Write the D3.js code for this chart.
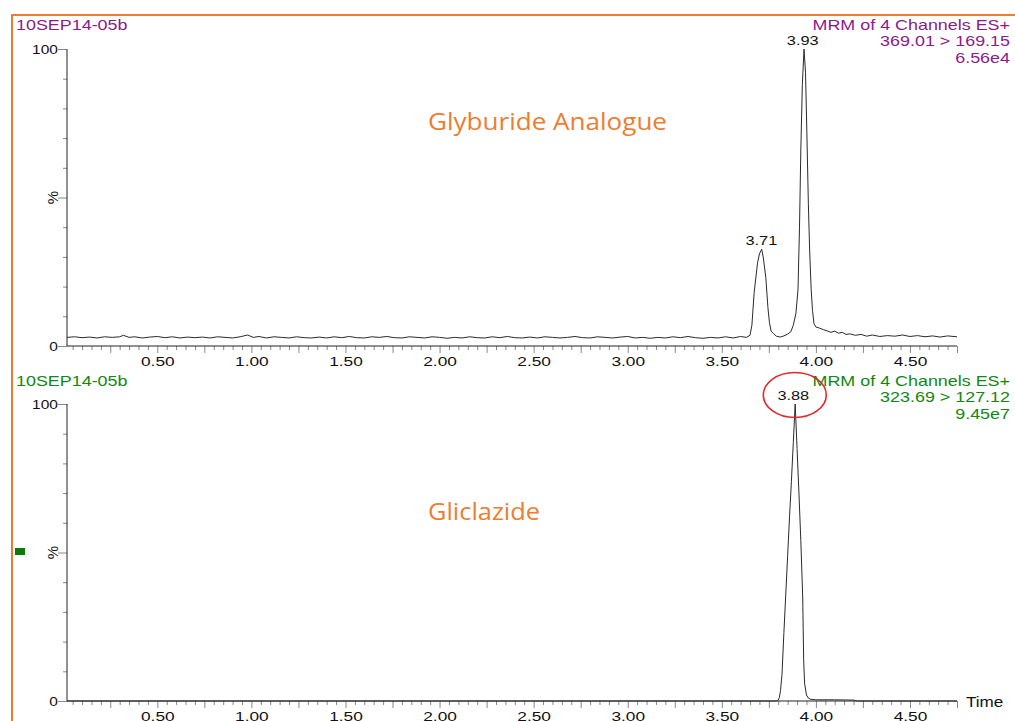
<!DOCTYPE html>
<html><head><meta charset="utf-8">
<script src="https://cdn.jsdelivr.net/npm/d3@7"></script>
<style>
html,body{margin:0;padding:0;background:#fff;}
svg{display:block;font-family:"Liberation Sans",Arial,sans-serif;}
</style>
</head><body>
<svg id="chart" width="1015" height="721"></svg>
<script>
// ---------------- DATA ----------------
const timeDomain = [0.02, 4.75];
const xTickLabels = ["0.50","1.00","1.50","2.00","2.50","3.00","3.50","4.00","4.50"];
const yTickLabels = ["0", "%", "100"];

const sampleName = "10SEP14-05b";
const topHeader = ["MRM of 4 Channels ES+", "369.01 > 169.15", "6.56e4"];
const bottomHeader = ["MRM of 4 Channels ES+", "323.69 > 127.12", "9.45e7"];
const topCompound = "Glyburide Analogue";
const bottomCompound = "Gliclazide";

const topPeaks = [3.71, 3.93];
const bottomPeaks = [3.88];

// [time (min), relative intensity (%)]
const topTrace = [
[0.02,2.9],[0.06,3.1],[0.10,2.8],[0.14,3.0],[0.18,2.7],[0.22,3.1],[0.26,2.9],[0.30,3.1],[0.32,3.6],[0.35,2.9],
[0.38,3.1],[0.42,2.7],[0.46,3.0],[0.50,3.2],[0.54,2.8],[0.58,3.1],[0.62,2.7],[0.66,3.0],[0.70,2.8],[0.74,3.0],
[0.78,2.7],[0.82,3.1],[0.86,2.9],[0.90,2.7],[0.94,3.1],[0.98,3.7],[1.01,2.9],[1.04,3.2],[1.08,2.7],[1.12,3.1],
[1.16,2.9],[1.20,2.7],[1.24,3.1],[1.28,2.8],[1.32,2.7],[1.36,3.0],[1.40,2.7],[1.44,3.1],[1.48,2.8],[1.52,3.2],
[1.56,2.8],[1.60,2.7],[1.64,3.1],[1.68,2.9],[1.72,3.2],[1.76,2.8],[1.80,2.7],[1.84,3.1],[1.88,2.9],[1.92,2.7],
[1.96,3.1],[2.00,2.9],[2.04,2.6],[2.08,2.9],[2.12,2.7],[2.16,3.1],[2.20,2.8],[2.24,2.7],[2.28,3.1],[2.32,2.8],
[2.36,3.2],[2.40,2.8],[2.44,2.7],[2.48,3.0],[2.52,2.7],[2.56,3.1],[2.60,2.9],[2.64,2.7],[2.68,2.9],[2.72,3.2],
[2.76,2.8],[2.80,2.7],[2.84,3.1],[2.88,2.9],[2.92,2.7],[2.96,3.0],[3.00,3.2],[3.04,2.7],[3.08,2.9],[3.12,2.6],
[3.16,2.9],[3.20,2.7],[3.24,3.1],[3.28,2.8],[3.32,3.2],[3.36,2.8],[3.40,2.6],[3.44,2.9],[3.48,2.7],[3.52,3.1],
[3.56,2.7],[3.60,3.2],[3.63,2.9],[3.65,3.6],[3.66,7],[3.672,18],[3.69,28],[3.70,31],[3.712,32.6],[3.72,30],
[3.734,23],[3.745,13],[3.753,8],[3.762,5],[3.775,4.2],[3.79,3.3],[3.81,3.0],[3.83,3.4],[3.85,4.0],[3.867,4.8],
[3.88,7],[3.894,11],[3.905,19],[3.913,40],[3.92,66],[3.928,88],[3.937,100],[3.945,92],[3.952,72],[3.96,48],
[3.967,32],[3.975,19],[3.982,12],[3.99,7.5],[4.00,6.4],[4.02,6.0],[4.04,5.5],[4.06,5.1],[4.08,4.6],[4.10,5.0],
[4.12,4.3],[4.14,4.6],[4.16,3.9],[4.18,4.1],[4.21,3.6],[4.24,3.9],[4.27,3.3],[4.30,3.7],[4.34,3.2],[4.38,3.5],
[4.42,3.3],[4.46,3.7],[4.50,3.2],[4.54,3.5],[4.58,3.1],[4.62,3.4],[4.66,3.0],[4.70,3.4],[4.75,3.1]
];

const bottomTrace = [
[0.02,0],[1.00,0],[2.00,0],[3.00,0],[3.70,0],[3.79,0],[3.80,0.3],[3.806,1.2],[3.812,3.5],[3.82,9],
[3.83,23],[3.84,36],[3.85,49],[3.86,62],[3.87,74],[3.88,87],[3.89,100],[3.90,85],[3.91,70],[3.92,54],
[3.93,35],[3.935,14],[3.94,6],[3.95,2],[3.96,1],[3.97,0.6],[4.00,0.4],[4.10,0.4],[4.20,0.3],[4.22,0],
[4.75,0]
];

// ---------------- DRAWING ----------------
const svg = d3.select("#chart");
const orange = "#ED7D31", purple = "#8B1A8B", green = "#118811";
const SX = 1.28; // horizontal stretch of the original screenshot

// outer frame
svg.append("rect").attr("x",12).attr("y",15).attr("width",1020).attr("height",730)
  .attr("fill","none").attr("stroke",orange).attr("stroke-width",2);

const x = d3.scaleLinear().domain(timeDomain).range([67, 957]);

function stxt(g, str, px, py, size, color, anchor, sx){
  return g.append("text").text(str)
    .attr("transform", `translate(${px},${py}) scale(${sx||SX},1)`)
    .attr("font-size", size).attr("fill", color).attr("text-anchor", anchor||"start");
}

const minorT = d3.range(1, 96).map(i => i*0.05).filter(v => v <= 4.75 + 1e-9);
const medT = minorT.filter((v,i) => (i+1) % 5 === 0);
const labT = xTickLabels.map(Number);

function panel(cfg){
  const g = svg.append("g");
  const y = d3.scaleLinear().domain([0,100]).range([cfg.y0, cfg.y100]);

  // y ticks
  const yAxis = d3.axisLeft(y).tickValues(d3.range(0,101,10)).tickSize(4).tickFormat("");
  const ya = g.append("g").attr("transform","translate(67,0)").call(yAxis);
  ya.select(".domain").remove();
  ya.selectAll(".tick line").attr("stroke","#888")
    .attr("x2", d => (d % 50 === 0) ? -9 : -4);
  g.append("line").attr("x1",67).attr("x2",67).attr("y1",y(100)).attr("y2",y(0))
    .attr("stroke","#222").attr("stroke-width",1);
  stxt(g, yTickLabels[2], 58, y(100)+5, 13.5, "#111", "end", 1.15);
  stxt(g, yTickLabels[0], 58, y(0)+5, 13.5, "#111", "end", 1.15);
  g.append("text").text(yTickLabels[1])
    .attr("transform", `translate(${58},${y(50)}) rotate(-90)`)
    .attr("text-anchor","middle").attr("font-size",15).attr("fill","#111");

  // x axis
  const xa = g.append("g").attr("transform",`translate(0,${y(0)})`)
    .call(d3.axisBottom(x).tickValues(minorT).tickSize(4).tickFormat(""));
  xa.select(".domain").remove();
  xa.selectAll(".tick line").attr("stroke","#888")
    .attr("y2", d => medT.some(m => Math.abs(m-d)<1e-6) ? 7 : 4);
  g.append("line").attr("x1",x(timeDomain[0])).attr("x2",x(timeDomain[1]))
    .attr("y1",y(0)).attr("y2",y(0)).attr("stroke","#222");
  const xl = g.append("g").attr("transform",`translate(0,${y(0)})`)
    .call(d3.axisBottom(x).tickValues(labT).tickSize(0).tickFormat((d,i)=>xTickLabels[i]));
  xl.select(".domain").remove();
  xl.attr("font-size",null).attr("font-family",null);
  xl.selectAll(".tick text").attr("y",11).attr("dy","0.71em")
    .style("font-size","13.3px").attr("fill","#111")
    .style("font-family","'Liberation Sans', Arial, sans-serif")
    .attr("transform",`scale(1.3,1)`);

  // trace
  const line = d3.line().x(d => x(d[0])).y(d => y(d[1]));
  g.append("path").datum(cfg.trace).attr("d", line)
    .attr("fill","none").attr("stroke","#2a2a2a").attr("stroke-width",1);

  // peak labels
  cfg.peaks.forEach(p => {
    const near = cfg.trace.filter(d => Math.abs(d[0]-p) < 0.03);
    const top = d3.max(near, d => d[1]);
    stxt(g, p.toFixed(2), x(p), y(top) - 4, 12.3, "#111", "middle", 1.33);
  });

  // headers
  stxt(g, sampleName, 16, cfg.hy, 14, cfg.color, "start");
  cfg.header.forEach((s,i) => stxt(g, s, 1010, cfg.hy + i*16.3, 14, cfg.color, "end"));

  // compound name
  g.append("text").text(cfg.compound).attr("x",428).attr("y",cfg.cy)
    .style("font-family","'Open Sans', sans-serif").style("font-size","23px")
    .attr("fill",orange).attr("textLength",cfg.clen).attr("lengthAdjust","spacingAndGlyphs");
  return {g, y};
}

panel({y0:346, y100:49, trace:topTrace, peaks:topPeaks, header:topHeader, hy:30,
       color:purple, compound:topCompound, cy:129.5, clen:239});
const bot = panel({y0:701, y100:404, trace:bottomTrace, peaks:bottomPeaks, header:bottomHeader, hy:386,
       color:green, compound:bottomCompound, cy:519.5, clen:112});

// "Time" axis title
stxt(svg, "Time", 966, 707, 14.5, "#111", "start", 1.18);

// red highlight ellipse around the 3.88 label
svg.append("ellipse").attr("cx", x(bottomPeaks[0]) + 1.5).attr("cy", bot.y(100) - 9)
  .attr("rx",31.5).attr("ry",22.5).attr("fill","none").attr("stroke","#E5262A").attr("stroke-width",1.6);

// small green marker on the left
svg.append("rect").attr("x",15).attr("y",548).attr("width",10).attr("height",7).attr("fill","#0A7A0A");
</script>
</body></html>
